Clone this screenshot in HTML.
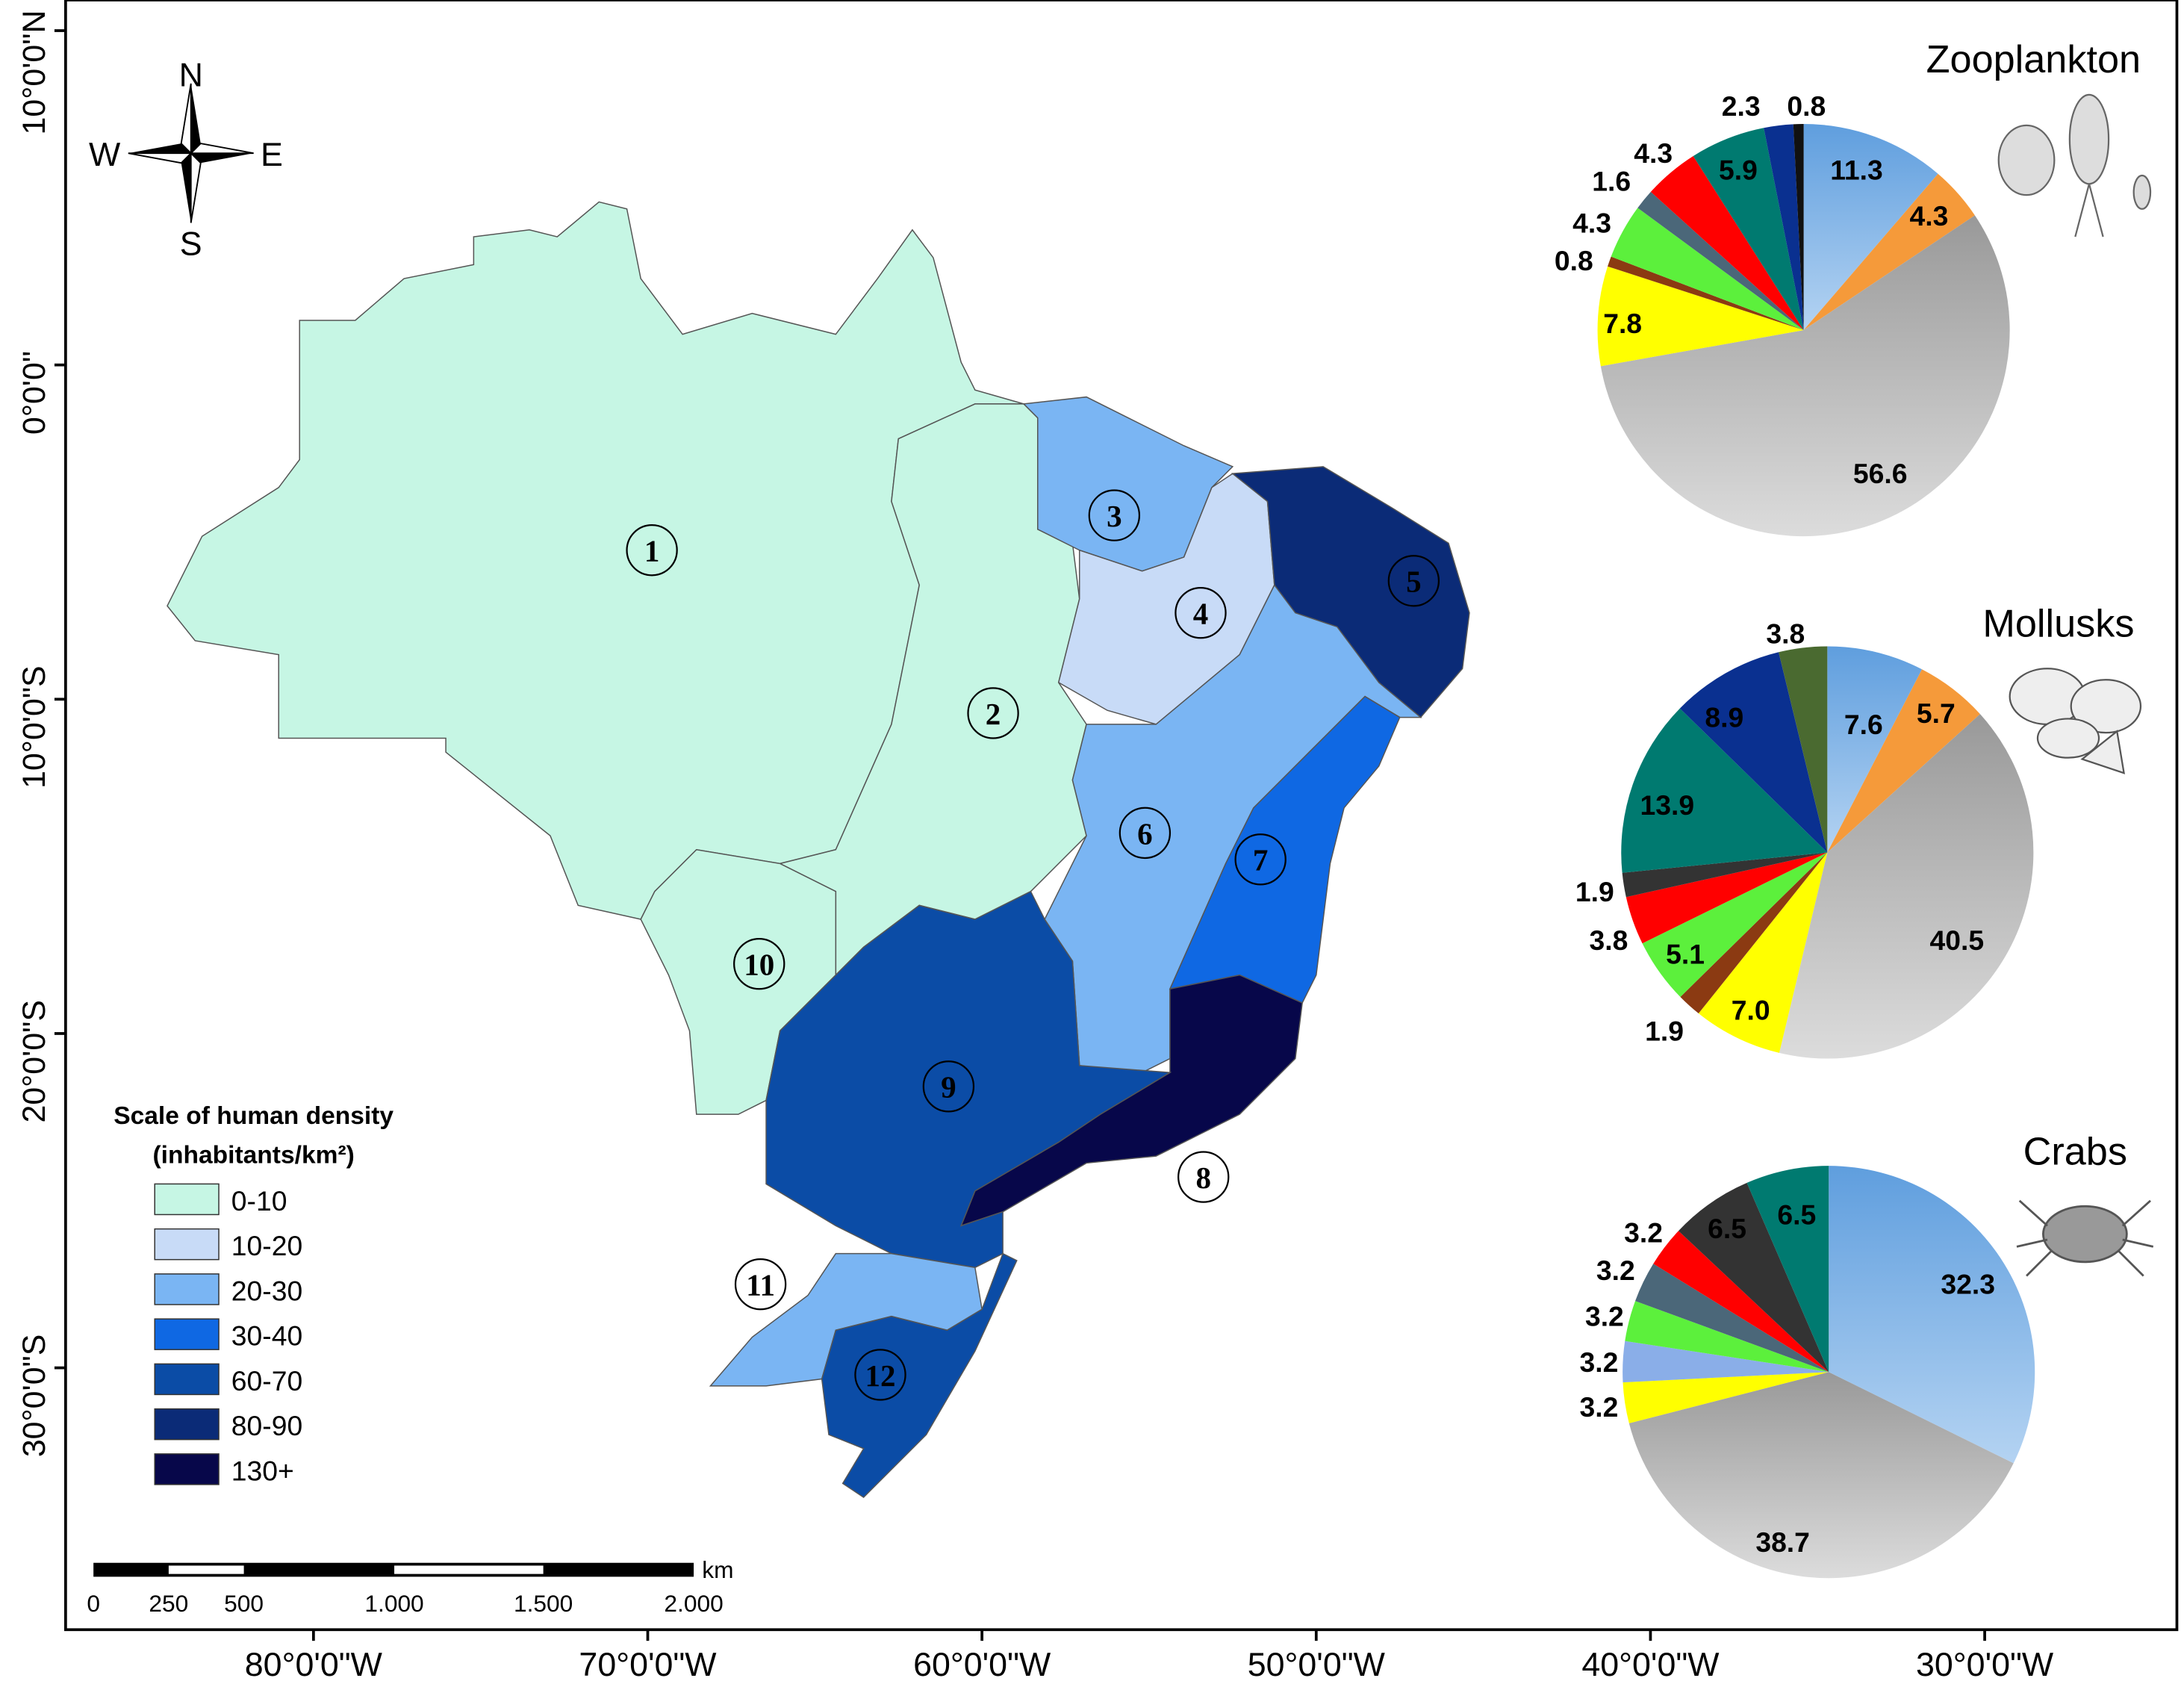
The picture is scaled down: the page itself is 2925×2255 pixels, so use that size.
<!DOCTYPE html>
<html><head><meta charset="utf-8">
<style>
html,body{margin:0;padding:0;background:#fff;}
svg{display:block;font-family:"Liberation Sans",sans-serif;}
</style></head>
<body>
<svg id="fig" width="2925" height="2255" viewBox="0 0 1568 1209" xmlns="http://www.w3.org/2000/svg">
<defs>
<linearGradient id="gGray" x1="0" y1="0" x2="0" y2="1"><stop offset="0" stop-color="#999"/><stop offset="1" stop-color="#dcdcdc"/></linearGradient>
<linearGradient id="gBlue" x1="0" y1="0" x2="0" y2="1"><stop offset="0" stop-color="#5f9ede"/><stop offset="1" stop-color="#b4d3f2"/></linearGradient>
</defs>
<rect x="47" y="0" width="1516" height="1170" fill="none" stroke="#000" stroke-width="2"/>
<g id="axes"></g>
<g id="map"></g>
<g id="legend"></g>
<g id="pies"></g>
<g fill="#ddd" stroke="#666" stroke-width="1.2">
<ellipse cx="1455" cy="115" rx="20" ry="25"/><ellipse cx="1500" cy="100" rx="14" ry="32"/><ellipse cx="1538" cy="138" rx="6" ry="12"/>
<line x1="1500" y1="132" x2="1490" y2="170"/><line x1="1500" y1="132" x2="1510" y2="170"/>
</g>
<g fill="#eee" stroke="#555" stroke-width="1.2">
<ellipse cx="1470" cy="500" rx="27" ry="20"/><ellipse cx="1512" cy="507" rx="25" ry="19"/><ellipse cx="1485" cy="530" rx="22" ry="14"/><path d="M1495,545 l25,-20 l5,30 z"/>
</g>
<g fill="#999" stroke="#555" stroke-width="1.5">
<ellipse cx="1497" cy="886" rx="30" ry="20"/>
<path d="M1470,880 l-20,-18 M1470,890 l-22,5 M1473,898 l-18,18 M1524,880 l20,-18 M1524,890 l22,5 M1521,898 l18,18" fill="none"/>
</g>
<g transform="translate(137,110)">
<polygon points="0,-50 7,-7 0,0" fill="#000"/><polygon points="0,-50 -7,-7 0,0" fill="#fff" stroke="#000"/>
<polygon points="0,50 -7,7 0,0" fill="#000"/><polygon points="0,50 7,7 0,0" fill="#fff" stroke="#000"/>
<polygon points="45,0 7,7 0,0" fill="#000"/><polygon points="45,0 7,-7 0,0" fill="#fff" stroke="#000"/>
<polygon points="-45,0 -7,-7 0,0" fill="#000"/><polygon points="-45,0 -7,7 0,0" fill="#fff" stroke="#000"/>
<text x="0" y="-48" text-anchor="middle" font-size="24">N</text>
<text x="0" y="73" text-anchor="middle" font-size="24">S</text>
<text x="-62" y="9" text-anchor="middle" font-size="24">W</text>
<text x="58" y="9" text-anchor="middle" font-size="24">E</text>
</g>
<g font-size="17">
<rect x="67" y="1122" width="431" height="10" fill="#000"/>
<rect x="121" y="1124" width="54" height="6" fill="#fff"/>
<rect x="283" y="1124" width="107" height="6" fill="#fff"/>
<text x="67" y="1157" text-anchor="middle">0</text>
<text x="121" y="1157" text-anchor="middle">250</text>
<text x="175" y="1157" text-anchor="middle">500</text>
<text x="283" y="1157" text-anchor="middle">1.000</text>
<text x="390" y="1157" text-anchor="middle">1.500</text>
<text x="498" y="1157" text-anchor="middle">2.000</text>
<text x="504" y="1133">km</text>
</g>
</svg>
<script>
const NS='http://www.w3.org/2000/svg';
function mk(tag,attrs,parent,txt){const e=document.createElementNS(NS,tag);for(const k in attrs)e.setAttribute(k,attrs[k]);if(txt!==undefined)e.textContent=txt;parent.appendChild(e);return e;}

const xTickLabels=['80°0\'0"W','70°0\'0"W','60°0\'0"W','50°0\'0"W','40°0\'0"W','30°0\'0"W'];
const xTickLon=[-80,-70,-60,-50,-40,-30];
const yTickLabels=['10°0\'0"N','0°0\'0"','10°0\'0"S','20°0\'0"S','30°0\'0"S'];
const yTickLat=[10,0,-10,-20,-30];
const xScale=lon=>225+(lon+80)*24;
const yScale=lat=>262-lat*24;
const axes=document.getElementById('axes');
xTickLon.forEach((v,i)=>{
  const t=mk('line',{x1:xScale(v),x2:xScale(v),y1:1170,y2:1178,stroke:'#000','stroke-width':2},axes);
  
  const l=mk('text',{x:xScale(v),y:1203,'text-anchor':'middle','font-size':24},axes,xTickLabels[i]);
  
});
yTickLat.forEach((v,i)=>{
  const y=yScale(v);
  const t=mk('line',{x1:39,x2:47,y1:y,y2:y,stroke:'#000','stroke-width':2},axes);
  
  const ly=Math.max(y+20,52);
  const l=mk('text',{x:0,y:0,'text-anchor':'middle','font-size':23,transform:`translate(32,${ly}) rotate(-90)`},axes,yTickLabels[i]);
  
});

const colors={'0-10':'#c6f6e4','10-20':'#c8dbf7','20-30':'#7ab5f3','30-40':'#0f68e3','60-70':'#0b4ca6','80-90':'#0b2b77','130+':'#07074a'};
const regions=[
 {id:1,cls:'0-10',lab:[468,395],pts:[[120,435],[145,385],[200,350],[215,330],[215,230],[255,230],[290,200],[340,190],[340,170],[380,165],[400,170],[430,145],[450,150],[460,200],[490,240],[540,225],[600,240],[630,200],[655,165],[670,185],[690,260],[700,280],[735,290],[700,290],[645,315],[640,360],[660,420],[640,520],[600,610],[560,620],[500,610],[470,640],[460,660],[415,650],[395,600],[320,540],[320,530],[200,530],[200,470],[140,460]]},
 {id:2,cls:'0-10',lab:[713,512],pts:[[645,315],[700,290],[735,290],[745,300],[745,380],[770,390],[775,430],[760,490],[780,520],[770,560],[780,600],[740,640],[700,660],[660,650],[620,680],[600,700],[600,640],[560,620],[600,610],[640,520],[660,420],[640,360]]},
 {id:10,cls:'0-10',lab:[545,692],pts:[[470,640],[500,610],[560,620],[600,640],[600,700],[560,740],[550,790],[530,800],[500,800],[495,740],[480,700],[460,660]]},
 {id:3,cls:'20-30',lab:[800,370],pts:[[735,290],[780,285],[810,300],[850,320],[885,335],[870,350],[850,400],[820,410],[775,395],[745,380],[745,300]]},
 {id:4,cls:'10-20',lab:[862,440],pts:[[850,400],[870,350],[885,340],[910,360],[915,420],[890,470],[830,520],[795,510],[760,490],[775,430],[775,395],[820,410]]},
 {id:5,cls:'80-90',lab:[1015,417],pts:[[885,340],[950,335],[1000,365],[1040,390],[1055,440],[1050,480],[1020,515],[990,490],[960,450],[930,440],[915,420],[910,360]]},
 {id:6,cls:'20-30',lab:[822,598],pts:[[790,520],[830,520],[890,470],[915,420],[930,440],[960,450],[990,490],[1020,515],[1005,515],[980,500],[940,540],[900,580],[880,620],[840,710],[840,760],[820,770],[775,765],[770,690],[750,660],[780,600],[770,560],[780,520]]},
 {id:7,cls:'30-40',lab:[905,617],pts:[[940,540],[980,500],[1005,515],[990,550],[965,580],[955,620],[945,700],[935,720],[890,700],[840,710],[880,620],[900,580]]},
 {id:8,cls:'130+',lab:[864,845],pts:[[840,710],[890,700],[935,720],[930,760],[890,800],[860,815],[830,830],[780,835],[720,870],[690,880],[700,855],[760,820],[790,800],[840,770],[840,760]]},
 {id:9,cls:'60-70',lab:[681,780],pts:[[600,700],[620,680],[660,650],[700,660],[740,640],[750,660],[770,690],[775,765],[840,770],[790,800],[760,820],[700,855],[690,880],[720,870],[720,900],[700,910],[640,900],[600,880],[550,850],[550,790],[560,740]]},
 {id:11,cls:'20-30',lab:[546,922],pts:[[600,900],[640,900],[700,910],[705,940],[680,955],[640,945],[600,955],[590,990],[550,995],[510,995],[540,960],[580,930]]},
 {id:12,cls:'60-70',lab:[632,987],pts:[[600,955],[640,945],[680,955],[705,940],[720,900],[730,905],[700,970],[665,1030],[620,1075],[605,1065],[620,1040],[595,1030],[590,990]]}
];
const map=document.getElementById('map');
regions.forEach(r=>{
  const p=mk('polygon',{points:r.pts.map(q=>q.join(',')).join(' '),fill:colors[r.cls],stroke:'#555','stroke-width':0.8},map);
  
});
regions.forEach(r=>{
  const white=(r.id===8||r.id===11);
  const c=mk('circle',{cx:r.lab[0],cy:r.lab[1],r:18,fill:white?'#fff':'none',stroke:'#000','stroke-width':1.2},map);
  
  const t=mk('text',{x:r.lab[0],y:r.lab[1]+8,'text-anchor':'middle','font-size':22,'font-weight':'bold','font-family':'Liberation Serif, serif'},map,String(r.id));
  
});

const legendCats=['0-10','10-20','20-30','30-40','60-70','80-90','130+'];
const lg=document.getElementById('legend');
const lt=mk('text',{x:182,y:807,'text-anchor':'middle','font-size':18,'font-weight':'bold'},lg,'Scale of human density');

const lt2=mk('text',{x:182,y:835,'text-anchor':'middle','font-size':18,'font-weight':'bold'},lg,'(inhabitants/km²)');

legendCats.forEach((c,i)=>{
  const y=850+i*32.3;
  const r=mk('rect',{x:111,y:y,width:46,height:22,fill:colors[c],stroke:'#333','stroke-width':0.8},lg);
  
  const t=mk('text',{x:166,y:y+19,'font-size':20},lg,c);
  
});

const pieColor={lb:'url(#gBlue)',or:'#f59a3a',gr:'url(#gGray)',ye:'#ffff00',br:'#8b3a12',gn:'#5cf03c',sl:'#4b6779',rd:'#ff0000',tl:'#007a70',db:'#0a3090',bk:'#111',ol:'#4a6a30',dg:'#333',bl:'#8aaee8'};
const zooValues=[11.3,4.3,56.6,7.8,0.8,4.3,1.6,4.3,5.9,2.3,0.8];
const zooColors=['lb','or','gr','ye','br','gn','sl','rd','tl','db','bk'];
const molValues=[7.6,5.7,40.5,7.0,1.9,5.1,3.8,1.9,13.9,8.9,3.8];
const molColors=['lb','or','gr','ye','br','gn','rd','dg','tl','db','ol'];
const crabValues=[32.3,38.7,3.2,3.2,3.2,3.2,3.2,6.5,6.5];
const crabColors=['lb','gr','ye','bl','gn','sl','rd','dg','tl'];
// label anchor layout (pixel positions of printed value labels)
const zooLabelLayout=[[1333,122],[1385,155],[1350,340],[1165,232],[1130,187],[1143,160],[1157,130],[1187,110],[1248,122],[1250,76],[1297,76]];
const molLabelLayout=[[1338,520],[1390,512],[1405,675],[1257,725],[1195,740],[1210,685],[1155,675],[1145,640],[1197,578],[1238,515],[1282,455]];
const crabLabelLayout=[[1413,922],[1280,1107],[1148,1010],[1148,978],[1152,945],[1160,912],[1180,885],[1240,882],[1290,872]];
const pieDefs=[
 {name:'zooplankton',title:'Zooplankton',tx:1460,ty:52,cx:1295,cy:237,r:148,vals:zooValues,cols:zooColors,lay:zooLabelLayout},
 {name:'mollusks',title:'Mollusks',tx:1478,ty:457,cx:1312,cy:612,r:148,vals:molValues,cols:molColors,lay:molLabelLayout},
 {name:'crabs',title:'Crabs',tx:1490,ty:836,cx:1313,cy:985,r:148,vals:crabValues,cols:crabColors,lay:crabLabelLayout}
];
const pies=document.getElementById('pies');
pieDefs.forEach(pd=>{
  const g=mk('g',{},pies);
  
  const tt=mk('text',{x:pd.tx,y:pd.ty,'text-anchor':'middle','font-size':28},g,pd.title);
  
  const total=pd.vals.reduce((a,b)=>a+b,0);
  let acc=0;
  pd.vals.forEach((v,i)=>{
    const a0=acc/total*2*Math.PI, a1=(acc+v)/total*2*Math.PI; acc+=v;
    const x0=pd.cx+pd.r*Math.sin(a0),y0=pd.cy-pd.r*Math.cos(a0);
    const x1=pd.cx+pd.r*Math.sin(a1),y1=pd.cy-pd.r*Math.cos(a1);
    const large=(a1-a0)>Math.PI?1:0;
    const s=mk('path',{d:`M${pd.cx},${pd.cy} L${x0},${y0} A${pd.r},${pd.r} 0 ${large} 1 ${x1},${y1} Z`,fill:pieColor[pd.cols[i]]},g);
    
    let lx,ly;
    if(pd.lay[i]){lx=pd.lay[i][0];ly=pd.lay[i][1];}
    else{const am=(a0+a1)/2;lx=pd.cx+pd.r*0.7*Math.sin(am);ly=pd.cy-pd.r*0.7*Math.cos(am);}
    const lab=mk('text',{x:lx,y:ly+7,'text-anchor':'middle','font-size':20,'font-weight':'bold'},g,v.toFixed(1));
    
  });
});
</script>
</body></html>
